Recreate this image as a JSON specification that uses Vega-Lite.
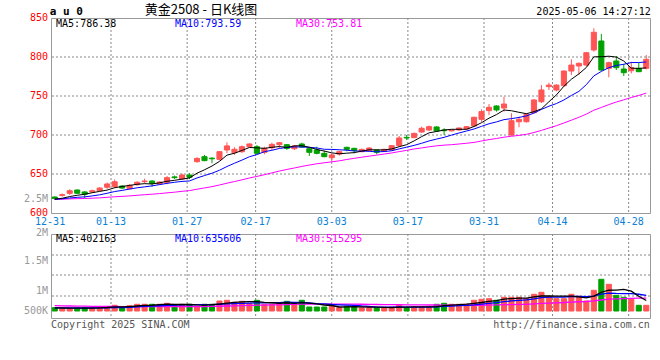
{
"$schema": "https://vega.github.io/schema/vega-lite/v6.json",
"padding": {"left": 22, "top": 3, "right": 0, "bottom": 0},
"background": "white",
"config": {"view": {"stroke": "#999999", "strokeWidth": 1},
 "axis": {"labelFont": "DejaVu Sans Mono", "labelFontSize": 10, "grid": false, "labelOverlap": false, "labelFlush": false, "ticks": false, "domain": false, "title": null}},
"data": {"values": [
{"d":"12-31","o":620.5,"h":621.5,"l":617.5,"c":618.5,"m5":617.7,"m10":617.6,"m30":617.5,"v":130000,"vm5":126000,"vm10":126000,"vm30":208500},
{"d":"01-02","o":622.5,"h":625,"l":621,"c":623.5,"m5":618.9,"m10":618.2,"m30":617.7,"v":91000,"vm5":119000,"vm10":122000,"vm30":203200},
{"d":"01-03","o":625.2,"h":630.4,"l":623,"c":628.6,"m5":621.1,"m10":619.3,"m30":618.1,"v":91000,"vm5":112000,"vm10":119000,"vm30":197900},
{"d":"01-06","o":629.5,"h":630,"l":624.5,"c":625.3,"m5":622.7,"m10":620.1,"m30":618.4,"v":118000,"vm5":111000,"vm10":118000,"vm30":193500},
{"d":"01-07","o":627,"h":628,"l":619,"c":624,"m5":624.0,"m10":620.7,"m30":618.6,"v":130000,"vm5":112000,"vm10":119000,"vm30":189500},
{"d":"01-08","o":627,"h":630,"l":626,"c":628.6,"m5":626.0,"m10":621.9,"m30":619.0,"v":130000,"vm5":112000,"vm10":119000,"vm30":185500},
{"d":"01-09","o":628.6,"h":633,"l":628,"c":632,"m5":627.7,"m10":623.3,"m30":619.4,"v":158000,"vm5":125000,"vm10":122000,"vm30":182400},
{"d":"01-10","o":633,"h":639,"l":631,"c":637.2,"m5":629.4,"m10":625.3,"m30":620.1,"v":158000,"vm5":139000,"vm10":126000,"vm30":179400},
{"d":"01-13","o":633.7,"h":643,"l":632,"c":640.1,"m5":632.4,"m10":627.5,"m30":620.8,"v":225000,"vm5":160000,"vm10":136000,"vm30":178500},
{"d":"01-14","o":634.6,"h":635.5,"l":631,"c":632,"m5":634.0,"m10":629.0,"m30":621.3,"v":130000,"vm5":160000,"vm10":136000,"vm30":174500},
{"d":"01-15","o":631.2,"h":637,"l":630,"c":635.5,"m5":635.4,"m10":630.7,"m30":621.9,"v":209000,"vm5":176000,"vm10":144000,"vm30":173200},
{"d":"01-16","o":636.3,"h":640.5,"l":635,"c":639.4,"m5":636.8,"m10":632.3,"m30":622.7,"v":265000,"vm5":197000,"vm10":161000,"vm30":173700},
{"d":"01-17","o":640.2,"h":644,"l":638,"c":641,"m5":637.6,"m10":633.5,"m30":623.4,"v":265000,"vm5":219000,"vm10":179000,"vm30":174200},
{"d":"01-20","o":641,"h":642,"l":633.5,"c":638,"m5":637.2,"m10":634.8,"m30":624.1,"v":265000,"vm5":227000,"vm10":194000,"vm30":174700},
{"d":"01-21","o":637.2,"h":640.5,"l":636,"c":639.7,"m5":638.7,"m10":636.4,"m30":624.9,"v":265000,"vm5":254000,"vm10":207000,"vm30":175200},
{"d":"01-22","o":639.4,"h":647.4,"l":636.8,"c":645.3,"m5":640.7,"m10":638.0,"m30":625.8,"v":304000,"vm5":273000,"vm10":224000,"vm30":177000},
{"d":"01-23","o":646.3,"h":648,"l":643.5,"c":645.3,"m5":641.9,"m10":639.4,"m30":626.7,"v":186000,"vm5":257000,"vm10":227000,"vm30":174800},
{"d":"01-24","o":643.6,"h":650.5,"l":642.5,"c":648.7,"m5":643.4,"m10":640.5,"m30":627.8,"v":265000,"vm5":257000,"vm10":238000,"vm30":175300},
{"d":"01-27","o":648.7,"h":651,"l":643.5,"c":645.8,"m5":645.0,"m10":641.1,"m30":628.7,"v":265000,"vm5":257000,"vm10":242000,"vm30":175800},
{"d":"02-05","o":665.8,"h":671.5,"l":664.5,"c":670,"m5":651.0,"m10":644.9,"m30":630.5,"v":186000,"vm5":241000,"vm10":248000,"vm30":173700},
{"d":"02-06","o":672.2,"h":674.5,"l":666.5,"c":667.1,"m5":655.4,"m10":648.0,"m30":632.1,"v":265000,"vm5":233000,"vm10":253000,"vm30":174200},
{"d":"02-07","o":670.3,"h":671.5,"l":663.8,"c":669.5,"m5":660.2,"m10":651.0,"m30":633.8,"v":265000,"vm5":249000,"vm10":253000,"vm30":178900},
{"d":"02-10","o":668.8,"h":679.5,"l":667.5,"c":678.6,"m5":666.2,"m10":654.8,"m30":635.9,"v":395000,"vm5":275000,"vm10":266000,"vm30":187900},
{"d":"02-11","o":680.8,"h":690.6,"l":676.5,"c":686,"m5":674.2,"m10":659.6,"m30":638.2,"v":423000,"vm5":307000,"vm10":282000,"vm30":197800},
{"d":"02-12","o":677.3,"h":684.2,"l":674.4,"c":681.7,"m5":676.6,"m10":663.8,"m30":640.3,"v":344000,"vm5":338000,"vm10":290000,"vm30":205100},
{"d":"02-13","o":678.6,"h":686.5,"l":677,"c":685,"m5":680.2,"m10":667.8,"m30":642.5,"v":383000,"vm5":362000,"vm10":298000,"vm30":213700},
{"d":"02-14","o":685,"h":689.5,"l":684,"c":688.5,"m5":684.0,"m10":672.1,"m30":644.9,"v":288000,"vm5":367000,"vm10":308000,"vm30":219100},
{"d":"02-17","o":685,"h":687,"l":676,"c":676.5,"m5":683.5,"m10":674.9,"m30":646.9,"v":423000,"vm5":372000,"vm10":324000,"vm30":229100},
{"d":"02-18","o":677.8,"h":685,"l":675.2,"c":682.9,"m5":682.9,"m10":678.6,"m30":649.1,"v":265000,"vm5":341000,"vm10":324000,"vm30":233700},
{"d":"02-19","o":683.7,"h":690.1,"l":680.8,"c":688,"m5":684.2,"m10":680.4,"m30":651.4,"v":265000,"vm5":325000,"vm10":332000,"vm30":238400},
{"d":"02-20","o":687.6,"h":691,"l":683,"c":690.1,"m5":685.2,"m10":682.7,"m30":653.8,"v":288000,"vm5":306000,"vm10":334000,"vm30":243700},
{"d":"02-21","o":687.6,"h":688.5,"l":680.8,"c":682.9,"m5":684.1,"m10":684.0,"m30":655.8,"v":383000,"vm5":325000,"vm10":346000,"vm30":253400},
{"d":"02-24","o":682.4,"h":687.2,"l":680.8,"c":685.9,"m5":686.0,"m10":684.8,"m30":657.7,"v":288000,"vm5":298000,"vm10":335000,"vm30":260000},
{"d":"02-25","o":688.5,"h":690.1,"l":683.7,"c":684.6,"m5":686.3,"m10":684.6,"m30":659.7,"v":423000,"vm5":329000,"vm10":335000,"vm30":270100},
{"d":"02-26","o":682.4,"h":683.5,"l":673.1,"c":677.8,"m5":684.3,"m10":684.2,"m30":661.5,"v":158000,"vm5":308000,"vm10":316000,"vm30":271100},
{"d":"02-27","o":680.8,"h":685,"l":675.2,"c":676.5,"m5":681.5,"m10":683.4,"m30":663.1,"v":158000,"vm5":282000,"vm10":294000,"vm30":272000},
{"d":"02-28","o":676.5,"h":679.9,"l":671.5,"c":672.2,"m5":679.4,"m10":681.7,"m30":664.4,"v":158000,"vm5":237000,"vm10":281000,"vm30":272000},
{"d":"03-03","o":670.9,"h":676.5,"l":665.8,"c":674.4,"m5":677.1,"m10":681.5,"m30":665.6,"v":186000,"vm5":217000,"vm10":257000,"vm30":272900},
{"d":"03-04","o":675.6,"h":679.9,"l":673.5,"c":678.6,"m5":675.9,"m10":681.1,"m30":666.9,"v":130000,"vm5":158000,"vm10":244000,"vm30":269800},
{"d":"03-05","o":684.2,"h":685,"l":679.1,"c":681.6,"m5":676.7,"m10":680.5,"m30":668.6,"v":186000,"vm5":164000,"vm10":236000,"vm30":271600},
{"d":"03-06","o":682.9,"h":683.5,"l":676.5,"c":680.3,"m5":677.4,"m10":679.5,"m30":670.1,"v":186000,"vm5":169000,"vm10":226000,"vm30":270900},
{"d":"03-07","o":678.6,"h":682.5,"l":678,"c":681.6,"m5":679.3,"m10":679.4,"m30":671.5,"v":130000,"vm5":164000,"vm10":200000,"vm30":266400},
{"d":"03-10","o":679.9,"h":684.5,"l":679,"c":683.3,"m5":681.1,"m10":679.1,"m30":672.9,"v":130000,"vm5":152000,"vm10":185000,"vm30":261900},
{"d":"03-11","o":680.8,"h":681.5,"l":675.2,"c":677.8,"m5":680.9,"m10":678.4,"m30":674.2,"v":130000,"vm5":152000,"vm10":155000,"vm30":257400},
{"d":"03-12","o":679.1,"h":682.5,"l":678.5,"c":681.6,"m5":680.9,"m10":678.8,"m30":675.6,"v":130000,"vm5":141000,"vm10":152000,"vm30":252900},
{"d":"03-13","o":680.8,"h":687,"l":680,"c":686.3,"m5":682.1,"m10":679.8,"m30":677.0,"v":158000,"vm5":136000,"vm10":152000,"vm30":248000},
{"d":"03-14","o":686.3,"h":698.7,"l":685.5,"c":696.2,"m5":685.0,"m10":682.2,"m30":678.7,"v":225000,"vm5":155000,"vm10":159000,"vm30":249300},
{"d":"03-17","o":697,"h":700,"l":693.6,"c":696.2,"m5":687.6,"m10":684.4,"m30":680.3,"v":130000,"vm5":155000,"vm10":154000,"vm30":244800},
{"d":"03-18","o":696.6,"h":703,"l":696,"c":702.1,"m5":692.5,"m10":686.7,"m30":682.1,"v":158000,"vm5":160000,"vm10":156000,"vm30":241200},
{"d":"03-19","o":703.8,"h":710.7,"l":702.9,"c":708.6,"m5":697.9,"m10":689.4,"m30":683.4,"v":158000,"vm5":166000,"vm10":154000,"vm30":240300},
{"d":"03-20","o":706.4,"h":712,"l":705.1,"c":710.7,"m5":702.8,"m10":692.4,"m30":684.9,"v":158000,"vm5":166000,"vm10":151000,"vm30":236700},
{"d":"03-21","o":710.3,"h":711,"l":704,"c":705.1,"m5":704.5,"m10":694.8,"m30":686.1,"v":265000,"vm5":174000,"vm10":164000,"vm30":236700},
{"d":"03-24","o":706.5,"h":708.6,"l":700,"c":705.5,"m5":706.4,"m10":697.0,"m30":687.0,"v":304000,"vm5":209000,"vm10":182000,"vm30":233700},
{"d":"03-25","o":705.3,"h":707,"l":704.5,"c":706.4,"m5":707.3,"m10":699.9,"m30":687.6,"v":265000,"vm5":230000,"vm10":195000,"vm30":228400},
{"d":"03-26","o":706.4,"h":709.5,"l":705.5,"c":709,"m5":707.3,"m10":702.6,"m30":688.5,"v":265000,"vm5":251000,"vm10":209000,"vm30":225800},
{"d":"03-27","o":707.7,"h":711.5,"l":707,"c":710.7,"m5":707.3,"m10":705.1,"m30":689.4,"v":265000,"vm5":273000,"vm10":219000,"vm30":221900},
{"d":"03-28","o":711.5,"h":723.5,"l":710.5,"c":722.7,"m5":710.9,"m10":707.7,"m30":690.5,"v":423000,"vm5":304000,"vm10":239000,"vm30":226400},
{"d":"03-31","o":720.1,"h":733,"l":717,"c":730,"m5":715.8,"m10":711.1,"m30":692.3,"v":462000,"vm5":336000,"vm10":272000,"vm30":227700},
{"d":"04-01","o":731.2,"h":739.7,"l":725.6,"c":735.5,"m5":721.6,"m10":714.4,"m30":694.1,"v":486000,"vm5":380000,"vm10":305000,"vm30":235000},
{"d":"04-02","o":737.2,"h":738,"l":730,"c":732.1,"m5":726.2,"m10":716.8,"m30":695.5,"v":423000,"vm5":412000,"vm10":332000,"vm30":240300},
{"d":"04-03","o":734.6,"h":749.1,"l":730,"c":739.7,"m5":732.0,"m10":719.7,"m30":697.2,"v":541000,"vm5":467000,"vm10":370000,"vm30":248700},
{"d":"04-07","o":700,"h":727.8,"l":699,"c":718.3,"m5":731.1,"m10":721.0,"m30":698.4,"v":541000,"vm5":491000,"vm10":398000,"vm30":254000},
{"d":"04-08","o":717,"h":723.5,"l":709.9,"c":720.1,"m5":729.1,"m10":722.5,"m30":699.5,"v":541000,"vm5":506000,"vm10":421000,"vm30":262400},
{"d":"04-09","o":717,"h":728,"l":716,"c":726.5,"m5":727.3,"m10":724.5,"m30":700.9,"v":486000,"vm5":506000,"vm10":443000,"vm30":264500},
{"d":"04-10","o":728.6,"h":746,"l":728,"c":744.9,"m5":729.9,"m10":728.1,"m30":703.2,"v":660000,"vm5":554000,"vm10":483000,"vm30":281300},
{"d":"04-11","o":742.7,"h":764,"l":741,"c":757.7,"m5":733.5,"m10":732.8,"m30":705.9,"v":739000,"vm5":593000,"vm10":530000,"vm30":300600},
{"d":"04-14","o":762,"h":767,"l":757.7,"c":764,"m5":742.6,"m10":736.9,"m30":708.9,"v":581000,"vm5":601000,"vm10":546000,"vm30":314700},
{"d":"04-15","o":757.7,"h":765,"l":756,"c":764,"m5":751.4,"m10":740.3,"m30":711.9,"v":486000,"vm5":590000,"vm10":548000,"vm30":324700},
{"d":"04-16","o":763.2,"h":783,"l":762,"c":782,"m5":762.5,"m10":744.9,"m30":715.4,"v":486000,"vm5":590000,"vm10":548000,"vm30":336600},
{"d":"04-17","o":782,"h":797,"l":777,"c":789.7,"m5":771.5,"m10":750.7,"m30":719.0,"v":660000,"vm5":590000,"vm10":572000,"vm30":352400},
{"d":"04-18","o":788.5,"h":793,"l":777,"c":791.9,"m5":778.3,"m10":755.9,"m30":722.7,"v":581000,"vm5":559000,"vm10":576000,"vm30":365600},
{"d":"04-21","o":789.7,"h":806.4,"l":788,"c":805.5,"m5":786.6,"m10":764.6,"m30":726.8,"v":395000,"vm5":522000,"vm10":562000,"vm30":374400},
{"d":"04-22","o":809,"h":836.8,"l":806.8,"c":831.7,"m5":800.2,"m10":775.8,"m30":731.8,"v":818000,"vm5":588000,"vm10":589000,"vm30":397300},
{"d":"04-23","o":820.5,"h":829.5,"l":782,"c":783.3,"m5":800.4,"m10":781.5,"m30":735.3,"v":1252000,"vm5":741000,"vm10":666000,"vm30":434700},
{"d":"04-24","o":785.5,"h":794,"l":774,"c":792.7,"m5":801.0,"m10":786.3,"m30":739.0,"v":1055000,"vm5":820000,"vm10":705000,"vm30":465600},
{"d":"04-25","o":794.9,"h":801.3,"l":783.3,"c":786.3,"m5":799.9,"m10":789.1,"m30":742.3,"v":620000,"vm5":828000,"vm10":693000,"vm30":481000},
{"d":"04-28","o":784.6,"h":791,"l":775.6,"c":779.9,"m5":794.8,"m10":790.7,"m30":745.1,"v":541000,"vm5":857000,"vm10":689000,"vm30":491500},
{"d":"04-29","o":782.4,"h":794,"l":779,"c":786.3,"m5":785.7,"m10":792.9,"m30":748.1,"v":462000,"vm5":786000,"vm10":687000,"vm30":502600},
{"d":"04-30","o":785.5,"h":792.3,"l":780.5,"c":781.2,"m5":785.3,"m10":792.9,"m30":750.7,"v":225000,"vm5":581000,"vm10":661000,"vm30":504800},
{"d":"05-06","o":785.5,"h":802.6,"l":784,"c":797,"m5":786.1,"m10":793.6,"m30":753.7,"v":225000,"vm5":415000,"vm10":617000,"vm30":507000}
]},
"spacing": 21,
"bounds": "flush",
"vconcat": [
{
"width": 599, "height": 195,
"layer": [
{"mark": {"type": "rule", "color": "#888888", "strokeWidth": 1, "strokeDash": [2, 2]},
 "encoding": {"x": {"field": "d", "type": "ordinal", "sort": null, "scale": {"range": [-4.706, 604.294], "paddingInner": 0, "paddingOuter": 0},
  "axis": {"values": ["12-31", "01-13", "01-27", "02-17", "03-03", "03-17", "03-31", "04-14", "04-28"], "grid": false,
   "labelColor": "#0a7fd6", "labelPadding": 3, "labelAngle": 0, "labelOverlap": false}},
  "strokeOpacity": {"condition": {"test": "indexof(['01-13','01-27','02-17','03-03','03-17','03-31','04-14','04-28'], datum.d) >= 0", "value": 1}, "value": 0}}},
{
"layer": [
{"data": {"values": [{}]}, "mark": {"type": "rule", "color": "#888888", "strokeWidth": 1, "strokeDash": [2, 2]}, "encoding": {"y": {"datum": 650, "type": "quantitative"}}},
{"data": {"values": [{}]}, "mark": {"type": "rule", "color": "#888888", "strokeWidth": 1, "strokeDash": [2, 2]}, "encoding": {"y": {"datum": 700, "type": "quantitative"}}},
{"data": {"values": [{}]}, "mark": {"type": "rule", "color": "#888888", "strokeWidth": 1, "strokeDash": [2, 2]}, "encoding": {"y": {"datum": 750, "type": "quantitative"}}},
{"data": {"values": [{}]}, "mark": {"type": "rule", "color": "#888888", "strokeWidth": 1, "strokeDash": [2, 2]}, "encoding": {"y": {"datum": 800, "type": "quantitative"}}},
{"mark": {"type": "rule", "strokeWidth": 1},
 "encoding": {
  "x": {"field": "d", "type": "ordinal", "sort": null, "scale": {"paddingInner": 0, "paddingOuter": 0}, "axis": null},
  "y": {"field": "l", "type": "quantitative", "scale": {"domain": [600, 850], "zero": false, "nice": false},
        "axis": {"values": [600, 616.7, 650, 700, 750, 800, 850], "tickCount": 30, "grid": false,
         "labelExpr": "datum.value > 610 && datum.value < 620 ? '2.5M' : datum.label",
         "labelColor": {"condition": {"test": "datum.value > 610 && datum.value < 620", "value": "#999999"}, "value": "#ff0000"},
         "labelPadding": 3.5, "labelOffset": -1, "labelOverlap": false}},
  "y2": {"field": "h"},
  "color": {"condition": {"test": "datum.c >= datum.o", "value": "#ff5555"}, "value": "#00a000"}}},
{"mark": {"type": "bar", "width": {"band": 0.68}, "strokeWidth": 1},
 "encoding": {
  "x": {"field": "d", "type": "ordinal", "sort": null, "scale": {"paddingInner": 0, "paddingOuter": 0}, "axis": null},
  "y": {"field": "o", "type": "quantitative"},
  "y2": {"field": "c"},
  "color": {"condition": {"test": "datum.c >= datum.o", "value": "#ff5555"}, "value": "#00a000"},
  "stroke": {"condition": {"test": "datum.c >= datum.o", "value": "#ff5555"}, "value": "#00a000"}}},
{"mark": {"type": "line", "color": "#ff00ff", "strokeWidth": 1},
 "encoding": {"x": {"field": "d", "type": "ordinal", "sort": null, "axis": null}, "y": {"field": "m30", "type": "quantitative"}}},
{"mark": {"type": "line", "color": "#0000ff", "strokeWidth": 1},
 "encoding": {"x": {"field": "d", "type": "ordinal", "sort": null, "axis": null}, "y": {"field": "m10", "type": "quantitative"}}},
{"mark": {"type": "line", "color": "#000000", "strokeWidth": 1},
 "encoding": {"x": {"field": "d", "type": "ordinal", "sort": null, "axis": null}, "y": {"field": "m5", "type": "quantitative"}}},
{"mark": {"type": "text", "align": "left", "baseline": "bottom", "dx": -5, "dy": -1, "font": "DejaVu Sans Mono", "fontSize": 11, "fontWeight": "bold", "color": "#000000"},
 "encoding": {"x": {"field": "d", "type": "ordinal", "sort": null, "axis": null}, "y": {"datum": 850, "type": "quantitative"},
  "text": {"condition": {"test": "datum.d === '12-31'", "value": "a u 0"}, "value": ""}}},
{"mark": {"type": "text", "align": "center", "baseline": "bottom", "dx": -3.5, "dy": -1, "font": "Noto Sans CJK SC", "fontSize": 13, "color": "#000000"},
 "encoding": {"x": {"field": "d", "type": "ordinal", "sort": null, "axis": null}, "y": {"datum": 850, "type": "quantitative"},
  "text": {"condition": {"test": "datum.d === '02-06'", "value": "黄金2508 - 日K线图"}, "value": ""}}},
{"mark": {"type": "text", "align": "right", "baseline": "bottom", "dx": 4.5, "dy": -1, "font": "DejaVu Sans Mono", "fontSize": 10, "color": "#000000"},
 "encoding": {"x": {"field": "d", "type": "ordinal", "sort": null, "axis": null}, "y": {"datum": 850, "type": "quantitative"},
  "text": {"condition": {"test": "datum.d === '05-06'", "value": "2025-05-06 14:27:12"}, "value": ""}}},
{"mark": {"type": "text", "align": "left", "baseline": "top", "dx": 1.3, "dy": 1, "font": "DejaVu Sans Mono", "fontSize": 10, "color": "#000000"},
 "encoding": {"x": {"field": "d", "type": "ordinal", "sort": null, "axis": null}, "y": {"datum": 850, "type": "quantitative"},
  "text": {"condition": {"test": "datum.d === '12-31'", "value": "MA5:786.38"}, "value": ""}}},
{"mark": {"type": "text", "align": "left", "baseline": "top", "dx": 0.5, "dy": 1, "font": "DejaVu Sans Mono", "fontSize": 10, "color": "#0000ff"},
 "encoding": {"x": {"field": "d", "type": "ordinal", "sort": null, "axis": null}, "y": {"datum": 850, "type": "quantitative"},
  "text": {"condition": {"test": "datum.d === '01-23'", "value": "MA10:793.59"}, "value": ""}}},
{"mark": {"type": "text", "align": "left", "baseline": "top", "dx": 1.6, "dy": 1, "font": "DejaVu Sans Mono", "fontSize": 10, "color": "#ff00ff"},
 "encoding": {"x": {"field": "d", "type": "ordinal", "sort": null, "axis": null}, "y": {"datum": 850, "type": "quantitative"},
  "text": {"condition": {"test": "datum.d === '02-24'", "value": "MA30:753.81"}, "value": ""}}}
]
}
],
"resolve": {"scale": {"x": "independent"}}
},
{
"width": 599, "height": 84,
"layer": [
{"mark": {"type": "rule", "color": "#888888", "strokeWidth": 1, "strokeDash": [2, 2]},
 "encoding": {"x": {"field": "d", "type": "ordinal", "sort": null, "scale": {"range": [-4.706, 604.294], "paddingInner": 0, "paddingOuter": 0}, "axis": null},
  "strokeOpacity": {"condition": {"test": "indexof(['01-13','01-27','02-17','03-03','03-17','03-31','04-14','04-28'], datum.d) >= 0", "value": 1}, "value": 0}}},
{
"layer": [
{"data": {"values": [{}]}, "mark": {"type": "rule", "color": "#888888", "strokeWidth": 1, "strokeDash": [2, 2]}, "encoding": {"y": {"datum": 592500, "type": "quantitative"}}},
{"data": {"values": [{}]}, "mark": {"type": "rule", "color": "#888888", "strokeWidth": 1, "strokeDash": [2, 2]}, "encoding": {"y": {"datum": 1422000, "type": "quantitative"}}},
{"data": {"values": [{}]}, "mark": {"type": "rule", "color": "#888888", "strokeWidth": 1, "strokeDash": [2, 2]}, "encoding": {"y": {"datum": 2212000, "type": "quantitative"}}},
{"mark": {"type": "bar", "width": {"band": 0.68}, "strokeWidth": 1},
 "encoding": {
  "x": {"field": "d", "type": "ordinal", "sort": null, "scale": {"paddingInner": 0, "paddingOuter": 0}, "axis": null},
  "y": {"field": "v", "type": "quantitative", "scale": {"domain": [-276500, 3041500], "zero": false, "nice": false},
        "axis": {"values": [592500, 1422000, 2212000, 3041500], "tickCount": 30, "grid": false,
         "labelColor": "#999999", "labelPadding": 3.5,
         "labelExpr": "datum.value > 3000000 ? '2M' : datum.value > 2000000 ? '1.5M' : datum.value > 1000000 ? '1M' : '500K'",
         "labelOffset": {"condition": [{"test": "datum.value > 3000000", "value": -1.5}, {"test": "datum.value > 2000000", "value": 5.5}, {"test": "datum.value > 1000000", "value": 15.3}], "value": 14.3},
         "labelBound": false, "labelOverlap": false}},
  "y2": {"datum": 0},
  "color": {"condition": {"test": "datum.c >= datum.o", "value": "#ff5555"}, "value": "#00a000"},
  "stroke": {"condition": {"test": "datum.c >= datum.o", "value": "#ff5555"}, "value": "#00a000"}}},
{"mark": {"type": "line", "color": "#ff00ff", "strokeWidth": 1.3},
 "encoding": {"x": {"field": "d", "type": "ordinal", "sort": null, "axis": null}, "y": {"field": "vm30", "type": "quantitative"}}},
{"mark": {"type": "line", "color": "#0000ff", "strokeWidth": 1.3},
 "encoding": {"x": {"field": "d", "type": "ordinal", "sort": null, "axis": null}, "y": {"field": "vm10", "type": "quantitative"}}},
{"mark": {"type": "line", "color": "#000000", "strokeWidth": 1.3},
 "encoding": {"x": {"field": "d", "type": "ordinal", "sort": null, "axis": null}, "y": {"field": "vm5", "type": "quantitative"}}},
{"mark": {"type": "text", "align": "left", "baseline": "top", "dx": 1.3, "dy": 0, "font": "DejaVu Sans Mono", "fontSize": 10, "color": "#000000"},
 "encoding": {"x": {"field": "d", "type": "ordinal", "sort": null, "axis": null}, "y": {"datum": 3041500, "type": "quantitative"},
  "text": {"condition": {"test": "datum.d === '12-31'", "value": "MA5:402163"}, "value": ""}}},
{"mark": {"type": "text", "align": "left", "baseline": "top", "dx": 0.5, "dy": 0, "font": "DejaVu Sans Mono", "fontSize": 10, "color": "#0000ff"},
 "encoding": {"x": {"field": "d", "type": "ordinal", "sort": null, "axis": null}, "y": {"datum": 3041500, "type": "quantitative"},
  "text": {"condition": {"test": "datum.d === '01-23'", "value": "MA10:635606"}, "value": ""}}},
{"mark": {"type": "text", "align": "left", "baseline": "top", "dx": 1.6, "dy": 0, "font": "DejaVu Sans Mono", "fontSize": 10, "color": "#ff00ff"},
 "encoding": {"x": {"field": "d", "type": "ordinal", "sort": null, "axis": null}, "y": {"datum": 3041500, "type": "quantitative"},
  "text": {"condition": {"test": "datum.d === '02-24'", "value": "MA30:515295"}, "value": ""}}},
{"mark": {"type": "text", "align": "left", "baseline": "top", "dx": -3.7, "dy": 2, "font": "DejaVu Sans Mono", "fontSize": 10, "color": "#555555"},
 "encoding": {"x": {"field": "d", "type": "ordinal", "sort": null, "axis": null}, "y": {"datum": -276500, "type": "quantitative"},
  "text": {"condition": {"test": "datum.d === '12-31'", "value": "Copyright 2025 SINA.COM"}, "value": ""}}},
{"mark": {"type": "text", "align": "right", "baseline": "top", "dx": 3.5, "dy": 2, "font": "DejaVu Sans Mono", "fontSize": 10, "color": "#555555"},
 "encoding": {"x": {"field": "d", "type": "ordinal", "sort": null, "axis": null}, "y": {"datum": -276500, "type": "quantitative"},
  "text": {"condition": {"test": "datum.d === '05-06'", "value": "http://finance.sina.com.cn"}, "value": ""}}}
]
}
],
"resolve": {"scale": {"x": "independent"}}
}
]
}
